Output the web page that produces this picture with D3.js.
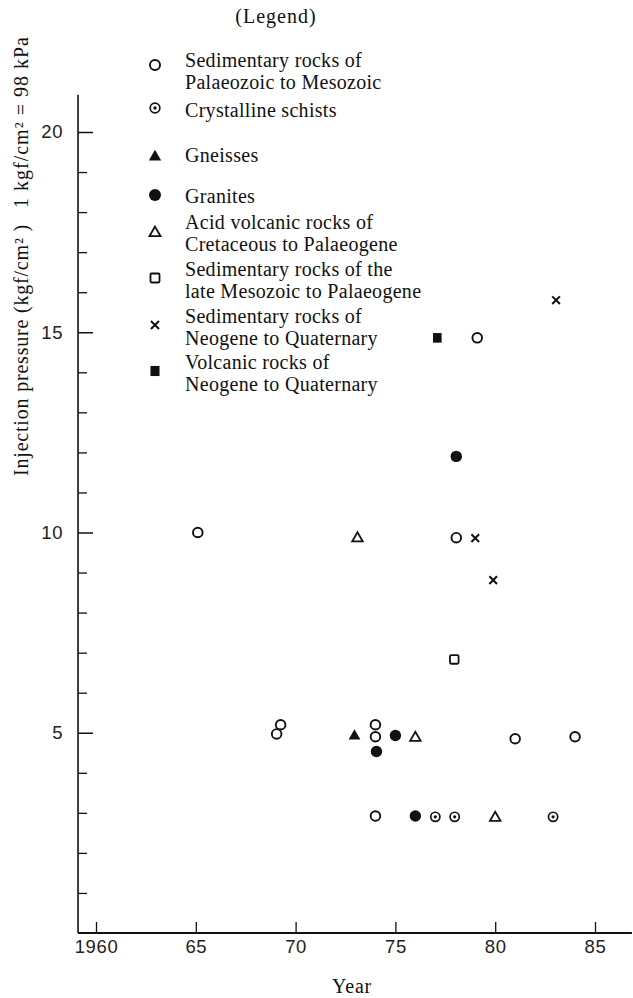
<!DOCTYPE html>
<html>
<head>
<meta charset="utf-8">
<script src="https://cdn.jsdelivr.net/npm/d3@7"></script>
<style>
  html, body { margin: 0; padding: 0; background: #fff; }
  svg { display: block; }
  .serif { font-family: "Liberation Serif", "DejaVu Serif", serif; fill: #111; }
  .tick text { font-family: "Liberation Sans", Arial, sans-serif; font-size: 18.5px; letter-spacing: 0.6px; fill: #222; }
</style>
</head>
<body>
<svg id="chart" width="633" height="998"></svg>
<script>
// ---------- data ----------
const xTickValues = [1960, 1965, 1970, 1975, 1980, 1985];
const xTickLabels = ["1960", "65", "70", "75", "80", "85"];
const yMajorTicks = [5, 10, 15, 20];
const yMinorTicks = [1, 2, 3, 4, 6, 7, 8, 9, 11, 12, 13, 14, 16, 17, 18, 19];

const sedPalMesYears  = [1965.1, 1969.05, 1969.25, 1974.0, 1974.0, 1974.0, 1978.05, 1979.1, 1981.0, 1984.0];
const sedPalMesValues = [10.0, 4.97, 5.2, 5.2, 4.9, 2.92, 9.87, 14.86, 4.85, 4.9];

const schistYears  = [1977.0, 1977.97, 1982.9];
const schistValues = [2.9, 2.9, 2.9];

const gneissYears  = [1972.95];
const gneissValues = [4.94];

const graniteYears  = [1974.05, 1975.0, 1976.0, 1978.05];
const graniteValues = [4.53, 4.93, 2.92, 11.9];

const acidVolcYears  = [1973.1, 1976.0, 1980.0];
const acidVolcValues = [9.88, 4.9, 2.9];

const sedLateMesYears  = [1977.95];
const sedLateMesValues = [6.83];

const sedNeoYears  = [1983.05, 1979.0, 1979.9];
const sedNeoValues = [15.8, 9.86, 8.81];

const volcNeoYears  = [1977.1];
const volcNeoValues = [14.86];

const legendLabels = [
  ["Sedimentary rocks of", "Palaeozoic to Mesozoic"],
  ["Crystalline schists"],
  ["Gneisses"],
  ["Granites"],
  ["Acid volcanic rocks of", "Cretaceous to Palaeogene"],
  ["Sedimentary rocks of the", "late Mesozoic to Palaeogene"],
  ["Sedimentary rocks of", "Neogene to Quaternary"],
  ["Volcanic rocks of", "Neogene to Quaternary"]
];
const symbolKinds = ["openCircle", "dotCircle", "filledTriangle", "filledCircle",
                     "openTriangle", "openSquare", "cross", "filledSquare"];

// ---------- build ----------
const svg = d3.select("#chart");
const x = d3.scaleLinear().domain([1960, 1985]).range([96, 595]);
const y = d3.scaleLinear().domain([0, 20]).range([933, 132]);

const ink = "#111";

// axes lines
svg.append("line").attr("x1", x(1959.1)).attr("x2", x(1959.1))
  .attr("y1", y(0)).attr("y2", y(20.93)).attr("stroke", ink).attr("stroke-width", 1.6);
svg.append("line").attr("x1", x(1959.1)).attr("x2", x(1986.85))
  .attr("y1", y(0)).attr("y2", y(0)).attr("stroke", ink).attr("stroke-width", 1.8);

// y axis (major with labels)
const yAxisG = svg.append("g").attr("transform", `translate(${x(1959.1)},0)`)
  .call(d3.axisLeft(y).tickValues(yMajorTicks).tickFormat(d3.format("d"))
        .tickSize(-15).tickPadding(15));
yAxisG.select(".domain").remove();
yAxisG.selectAll(".tick line").attr("stroke", ink).attr("stroke-width", 1.5);

const yMinorG = svg.append("g").attr("transform", `translate(${x(1959.1)},0)`)
  .call(d3.axisLeft(y).tickValues(yMinorTicks).tickFormat("").tickSize(-9));
yMinorG.select(".domain").remove();
yMinorG.selectAll(".tick line").attr("stroke", ink).attr("stroke-width", 1.3);

// x axis
const xAxisG = svg.append("g").attr("transform", `translate(0,${y(0)})`)
  .call(d3.axisBottom(x).tickValues(xTickValues)
        .tickFormat((d, i) => xTickLabels[i]).tickSize(-11).tickPadding(7));
xAxisG.select(".domain").remove();
xAxisG.selectAll(".tick line").attr("stroke", ink).attr("stroke-width", 1.3);

// axis titles
svg.append("text").attr("class", "serif")
  .attr("x", 352).attr("y", 993).attr("text-anchor", "middle")
  .attr("font-size", 20).attr("letter-spacing", 0.8).text("Year");

svg.append("text").attr("class", "serif")
  .attr("transform", "translate(28,350) rotate(-90)")
  .attr("text-anchor", "middle").attr("font-size", 20).attr("letter-spacing", 0.8)
  .text("Injection pressure (kgf/cm² )");
svg.append("text").attr("class", "serif")
  .attr("transform", "translate(28,122) rotate(-90)")
  .attr("text-anchor", "middle").attr("font-size", 20).attr("letter-spacing", 1)
  .text("1 kgf/cm² = 98 kPa");

// ---------- symbol drawing ----------
function drawSymbol(g, kind, cx, cy, s) {
  switch (kind) {
    case "openCircle":
      g.append("circle").attr("cx", cx).attr("cy", cy).attr("r", 4.8 * s)
        .attr("fill", "#fff").attr("stroke", ink).attr("stroke-width", 1.9);
      break;
    case "dotCircle":
      g.append("circle").attr("cx", cx).attr("cy", cy).attr("r", 4.6 * s)
        .attr("fill", "#fff").attr("stroke", ink).attr("stroke-width", 1.7);
      g.append("circle").attr("cx", cx).attr("cy", cy).attr("r", 1.6 * s).attr("fill", ink);
      break;
    case "filledCircle":
      g.append("circle").attr("cx", cx).attr("cy", cy).attr("r", 5.7 * s).attr("fill", ink);
      break;
    case "filledTriangle":
      g.append("path").attr("transform", `translate(${cx},${cy + 1})`)
        .attr("d", d3.symbol(d3.symbolTriangle, 60 * s * s)()).attr("fill", ink);
      break;
    case "openTriangle":
      g.append("path").attr("transform", `translate(${cx},${cy + 1})`)
        .attr("d", d3.symbol(d3.symbolTriangle, 48 * s * s)())
        .attr("fill", "#fff").attr("stroke", ink).attr("stroke-width", 1.8);
      break;
    case "openSquare":
      g.append("rect").attr("x", cx - 4.3 * s).attr("y", cy - 4.3 * s)
        .attr("width", 8.6 * s).attr("height", 8.6 * s).attr("rx", 1.2)
        .attr("fill", "#fff").attr("stroke", ink).attr("stroke-width", 1.8);
      break;
    case "filledSquare":
      g.append("rect").attr("x", cx - 4.3 * s).attr("y", cy - 4.8 * s)
        .attr("width", 8.6 * s).attr("height", 9.6 * s).attr("fill", ink);
      break;
    case "cross":
      g.append("path").attr("transform", `translate(${cx},${cy})`)
        .attr("d", d3.symbol(d3.symbolX, 40 * s * s)())
        .attr("fill", "none").attr("stroke", ink).attr("stroke-width", 2);
      break;
  }
}

// ---------- data points ----------
const seriesList = [
  [sedPalMesYears, sedPalMesValues],
  [schistYears, schistValues],
  [gneissYears, gneissValues],
  [graniteYears, graniteValues],
  [acidVolcYears, acidVolcValues],
  [sedLateMesYears, sedLateMesValues],
  [sedNeoYears, sedNeoValues],
  [volcNeoYears, volcNeoValues]
];
const pts = svg.append("g");
seriesList.forEach((s, k) => {
  s[0].forEach((yr, i) => drawSymbol(pts, symbolKinds[k], x(yr), y(s[1][i]), 1));
});

// ---------- legend ----------
svg.append("text").attr("class", "serif").attr("x", 276).attr("y", 23)
  .attr("text-anchor", "middle").attr("font-size", 20).attr("letter-spacing", 1)
  .text("(Legend)");

const legSymY  = [65, 108, 156, 195, 232, 278, 325, 371];
const legTextY = [67, 117, 162, 203, 229, 276, 323, 369];
const lg = svg.append("g");
legendLabels.forEach((lines, k) => {
  drawSymbol(lg, symbolKinds[k], 155, legSymY[k], 1.05);
  lines.forEach((t, j) => {
    lg.append("text").attr("class", "serif").attr("x", 185)
      .attr("y", legTextY[k] + j * 22)
      .attr("font-size", 20).attr("letter-spacing", 0.3).text(t);
  });
});
</script>
</body>
</html>
